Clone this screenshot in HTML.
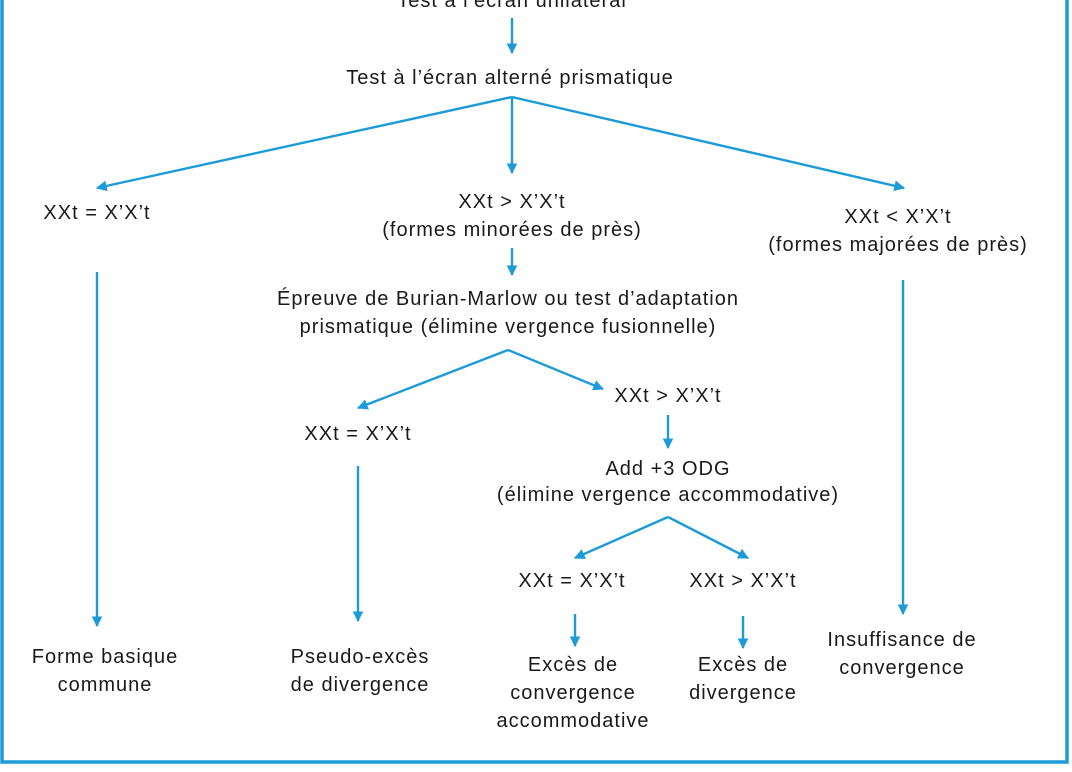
<!DOCTYPE html>
<html><head><meta charset="utf-8"><style>
html,body{margin:0;padding:0;background:#fff;}
svg{display:block;}
text{font-family:"Liberation Sans",sans-serif;font-size:20px;letter-spacing:1px;fill:#1a1a1a;text-anchor:middle;}
</style></head><body>
<svg width="1072" height="772" viewBox="0 0 1072 772" xmlns="http://www.w3.org/2000/svg">
<defs><marker id="a" viewBox="0 0 10 10" refX="9" refY="5" markerWidth="4.5" markerHeight="4.5" orient="auto"><path d="M0,0L10,5L0,10z" fill="#1d9bd7"/></marker></defs>
<rect x="2" y="-10" width="1065" height="772" fill="none" stroke="#1d9bd7" stroke-width="3.5"/>
<g stroke="#1d9bd7" stroke-width="2.4" fill="none" marker-end="url(#a)">
<line x1="512" y1="18" x2="512" y2="53"/>
<line x1="512" y1="97" x2="97" y2="188"/>
<line x1="512" y1="97" x2="512" y2="173"/>
<line x1="512" y1="97" x2="904" y2="188"/>
<line x1="97" y1="272" x2="97" y2="626"/>
<line x1="512" y1="248" x2="512" y2="275"/>
<line x1="903" y1="280" x2="903" y2="614"/>
<line x1="508" y1="350" x2="358" y2="408"/>
<line x1="508" y1="350" x2="603" y2="389"/>
<line x1="668" y1="415" x2="668" y2="448"/>
<line x1="358" y1="466" x2="358" y2="621"/>
<line x1="668" y1="517" x2="575" y2="558"/>
<line x1="668" y1="517" x2="748" y2="558"/>
<line x1="575" y1="614" x2="575" y2="646"/>
<line x1="743" y1="616" x2="743" y2="648"/>
</g>
<text x="512" y="7">Test à l’écran unilatéral</text>
<text x="510" y="84">Test à l’écran alterné prismatique</text>
<text x="97" y="219">XXt = X’X’t</text>
<text x="512" y="208">XXt &gt; X’X’t</text>
<text x="512" y="236">(formes minorées de près)</text>
<text x="898" y="223">XXt &lt; X’X’t</text>
<text x="898" y="251">(formes majorées de près)</text>
<text x="508" y="305">Épreuve de Burian-Marlow ou test d’adaptation</text>
<text x="508" y="333">prismatique (élimine vergence fusionnelle)</text>
<text x="668" y="402">XXt &gt; X’X’t</text>
<text x="358" y="440">XXt = X’X’t</text>
<text x="668" y="475">Add +3 ODG</text>
<text x="668" y="501">(élimine vergence accommodative)</text>
<text x="572" y="587">XXt = X’X’t</text>
<text x="743" y="587">XXt &gt; X’X’t</text>
<text x="105" y="663">Forme basique</text>
<text x="105" y="691">commune</text>
<text x="360" y="663">Pseudo-excès</text>
<text x="360" y="691">de divergence</text>
<text x="573" y="671">Excès de</text>
<text x="573" y="699">convergence</text>
<text x="573" y="727">accommodative</text>
<text x="743" y="671">Excès de</text>
<text x="743" y="699">divergence</text>
<text x="902" y="646">Insuffisance de</text>
<text x="902" y="674">convergence</text>
</svg>
</body></html>
